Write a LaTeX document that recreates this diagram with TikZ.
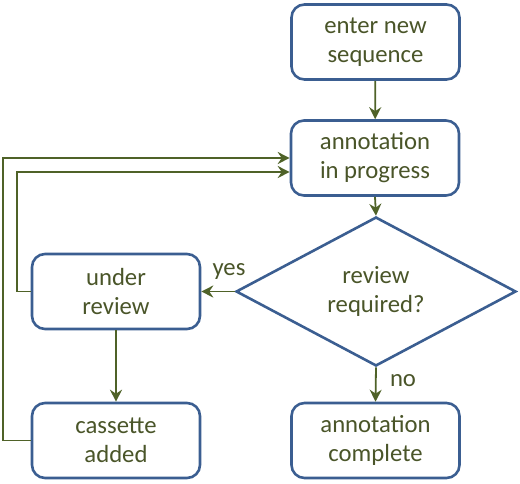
\documentclass[tikz,border=0pt]{standalone}
\usepackage{fontspec}
\setmainfont{Carlito}
\usetikzlibrary{shapes.geometric,arrows.meta}
\definecolor{boxblue}{HTML}{3B5E91}
\definecolor{olive}{HTML}{4F6228}
\definecolor{txt}{HTML}{4A5529}
\begin{document}
\begin{tikzpicture}[x=1pt,y=-1pt,
  font=\fontsize{24.7}{29}\selectfont,
  box/.style={draw=boxblue, line width=2.6pt, rounded corners=13pt, fill=white,
    minimum width=168pt, minimum height=75pt, inner sep=0pt, align=center, text=txt},
  dia/.style={draw=boxblue, line width=2.6pt, diamond, fill=white,
    minimum width=280pt, minimum height=149pt, inner sep=0pt, align=center, text=txt},
  arr/.style={draw=olive, line width=1.8pt, -{Stealth[length=12pt,width=12pt,inset=4pt]}},
  lbl/.style={text=txt}]
\useasboundingbox (0,0) rectangle (520,483);
\node[box] (enter) at (375.5,42) {enter new\\sequence};
\node[box] (prog) at (375,158) {annotation\\in progress};
\node[dia] (rq) at (376,291.5) {review\\required?};
\node[box] (rev) at (116,291.5) {under\\review};
\node[box] (cas) at (116,440.5) {cassette\\added};
\node[box] (done) at (375.5,440.5) {annotation\\complete};
\node[lbl] (yes) at (229,271) {yes};
\node[lbl] (no) at (403,381) {no};
\draw[arr] (enter) -- (prog);
\draw[arr] (prog.south) -- (rq.north);
\draw[arr] (rq.west) -- (rev.east);
\draw[arr] (rq.south) -- (done.north);
\draw[arr] (rev) -- (cas);
\draw[arr] (rev.west) -- ++(-14,0) |- ([yshift=-14pt]prog.west);
\draw[arr] (cas.west) -- ++(-28,0) |- (prog.west);
\end{tikzpicture}
\end{document}
